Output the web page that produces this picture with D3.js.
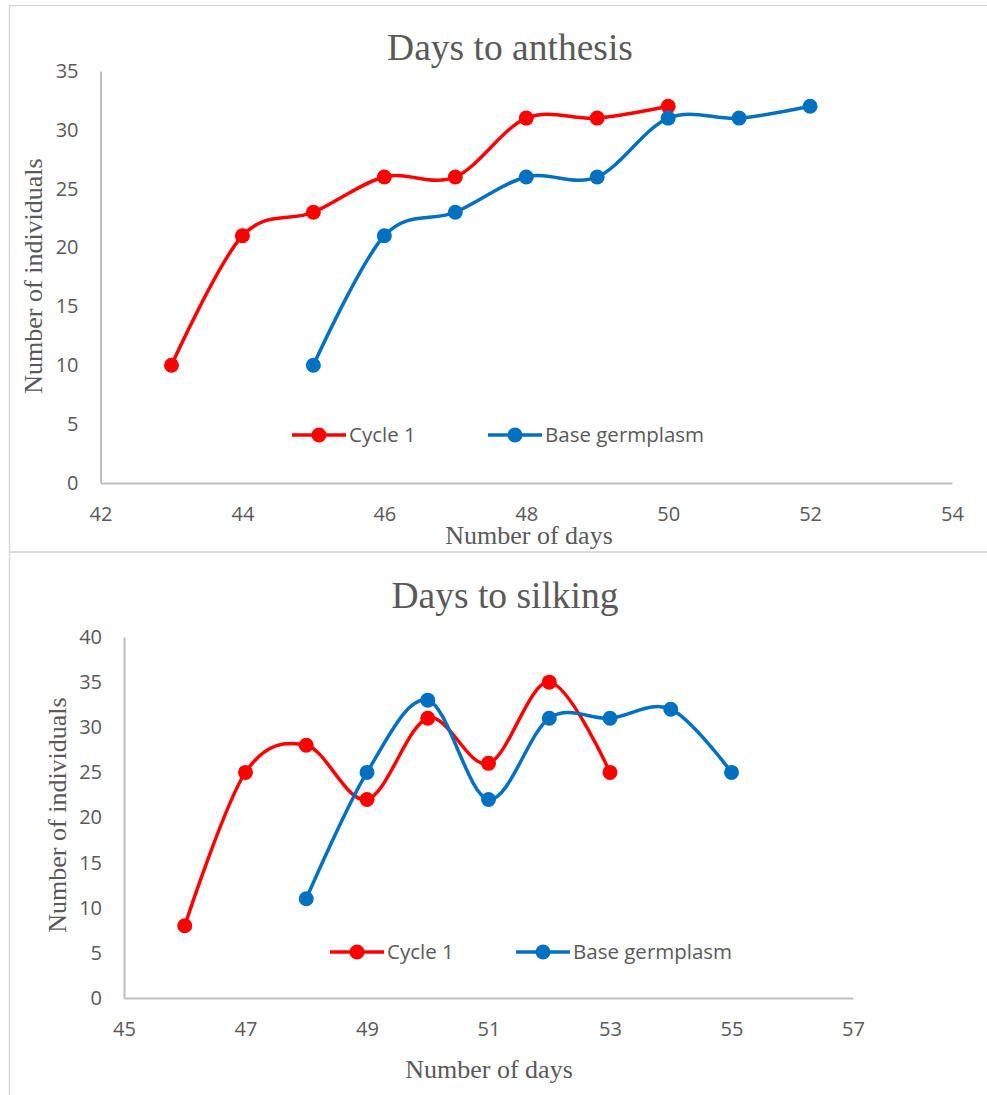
<!DOCTYPE html>
<html>
<head>
<meta charset="utf-8">
<script src="https://cdn.jsdelivr.net/npm/d3@7"></script>
<style>
  body { margin: 0; background: #fff; }
  svg { display: block; }
</style>
</head>
<body>
<svg width="987" height="1095"></svg>
<script>
// chart data
let anthesisCycleDays = [43, 44, 45, 46, 47, 48, 49, 50];
let anthesisCycle = [10, 21, 23, 26, 26, 31, 31, 32];
let anthesisBaseDays = [45, 46, 47, 48, 49, 50, 51, 52];
let anthesisBase = [10, 21, 23, 26, 26, 31, 31, 32];
let anthesisXTicks = [42, 44, 46, 48, 50, 52, 54];
let anthesisYTicks = [0, 5, 10, 15, 20, 25, 30, 35];

let silkingCycleDays = [46, 47, 48, 49, 50, 51, 52, 53];
let silkingCycle = [8, 25, 28, 22, 31, 26, 35, 25];
let silkingBaseDays = [48, 49, 50, 51, 52, 53, 54, 55];
let silkingBase = [11, 25, 33, 22, 31, 31, 32, 25];
let silkingXTicks = [45, 47, 49, 51, 53, 55, 57];
let silkingYTicks = [0, 5, 10, 15, 20, 25, 30, 35, 40];

let seriesNames = ["Cycle 1", "Base germplasm"];
let seriesColors = ["#ff0000", "#0070c0"];

let svg = d3.select("svg");
let tickFont = "'Open Sans', 'Noto Sans', sans-serif";
let serif = "'Liberation Serif', 'DejaVu Serif', serif";

// chart frames
svg.append("rect").attr("x", 9.5).attr("y", 5.5).attr("width", 1000).attr("height", 546.5)
    .attr("fill", "none").attr("stroke", "#d9d9d9").attr("stroke-width", 1.5);
svg.append("rect").attr("x", 9.5).attr("y", 552).attr("width", 1000).attr("height", 600)
    .attr("fill", "none").attr("stroke", "#d9d9d9").attr("stroke-width", 1.5);

function drawChart(cfg) {
    let g = svg.append("g");
    let x = d3.scaleLinear().domain(cfg.xDomain).range([cfg.left, cfg.right]);
    let y = d3.scaleLinear().domain(cfg.yDomain).range([cfg.bottom, cfg.top]);

    // axes
    let xAxis = g.append("g").attr("transform", "translate(0," + cfg.bottom + ")")
        .call(d3.axisBottom(x).tickValues(cfg.xTicks).tickSize(0).tickPadding(cfg.xPad));
    let yAxis = g.append("g").attr("transform", "translate(" + cfg.left + ",0)")
        .call(d3.axisLeft(y).tickValues(cfg.yTicks).tickSize(0).tickPadding(cfg.yPad));
    [xAxis, yAxis].forEach(a => {
        a.select(".domain").attr("stroke", "#bfbfbf").attr("stroke-width", 2);
        a.selectAll("text").attr("fill", "#595959").style("font-family", tickFont).style("font-size", "20px");
    });

    // title and axis titles
    g.append("text").attr("x", cfg.titleX).attr("y", cfg.titleY).attr("text-anchor", "middle")
        .style("font-family", serif).style("font-size", "37.5px").attr("fill", "#595959").text(cfg.title);
    g.append("text").attr("x", cfg.xTitleX).attr("y", cfg.xTitleY).attr("text-anchor", "middle")
        .style("font-family", serif).style("font-size", "26px").attr("fill", "#595959").text("Number of days");
    g.append("text").attr("transform", "translate(" + cfg.yTitleX + "," + cfg.yTitleY + ") rotate(-90)")
        .attr("text-anchor", "middle")
        .style("font-family", serif).style("font-size", "26px").attr("fill", "#595959").text("Number of individuals");

    let line = d3.line().x(d => x(d[0])).y(d => y(d[1])).curve(d3.curveCardinal.tension(0));

    cfg.series.forEach((s, i) => {
        let pts = s.days.map((d, k) => [d, s.values[k]]);
        g.append("path").datum(pts).attr("d", line).attr("fill", "none")
            .attr("stroke", seriesColors[i]).attr("stroke-width", 3.5);
        g.selectAll(null).data(pts).enter().append("circle")
            .attr("cx", d => x(d[0])).attr("cy", d => y(d[1])).attr("r", 7.5)
            .attr("fill", seriesColors[i]);
    });

    // legend
    seriesNames.forEach((name, i) => {
        let lx = cfg.legendX[i];
        let lg = g.append("g").attr("transform", "translate(" + lx + "," + cfg.legendY + ")");
        lg.append("line").attr("x1", 0).attr("x2", 54).attr("stroke", seriesColors[i]).attr("stroke-width", 3.5);
        lg.append("circle").attr("cx", 27).attr("r", 7.5).attr("fill", seriesColors[i]);
        lg.append("text").attr("x", 57).attr("dy", "0.35em").style("font-family", tickFont)
            .style("font-size", "20.5px").attr("fill", "#595959").text(name);
    });
}

drawChart({
    title: "Days to anthesis", titleX: 510, titleY: 60,
    xDomain: [42, 54], yDomain: [0, 35],
    left: 100.5, right: 952, top: 71, bottom: 483,
    xTicks: anthesisXTicks, yTicks: anthesisYTicks, xPad: 24, yPad: 22,
    xTitleX: 529, xTitleY: 544, yTitleX: 42, yTitleY: 276,
    legendX: [292, 488], legendY: 435,
    series: [
        {days: anthesisCycleDays, values: anthesisCycle},
        {days: anthesisBaseDays, values: anthesisBase}
    ]
});

drawChart({
    title: "Days to silking", titleX: 505, titleY: 608,
    xDomain: [45, 57], yDomain: [0, 40],
    left: 124, right: 853, top: 637, bottom: 998,
    xTicks: silkingXTicks, yTicks: silkingYTicks, xPad: 24, yPad: 22,
    xTitleX: 489, xTitleY: 1078, yTitleX: 66, yTitleY: 815,
    legendX: [330, 516], legendY: 952,
    series: [
        {days: silkingCycleDays, values: silkingCycle},
        {days: silkingBaseDays, values: silkingBase}
    ]
});
</script>
</body>
</html>
